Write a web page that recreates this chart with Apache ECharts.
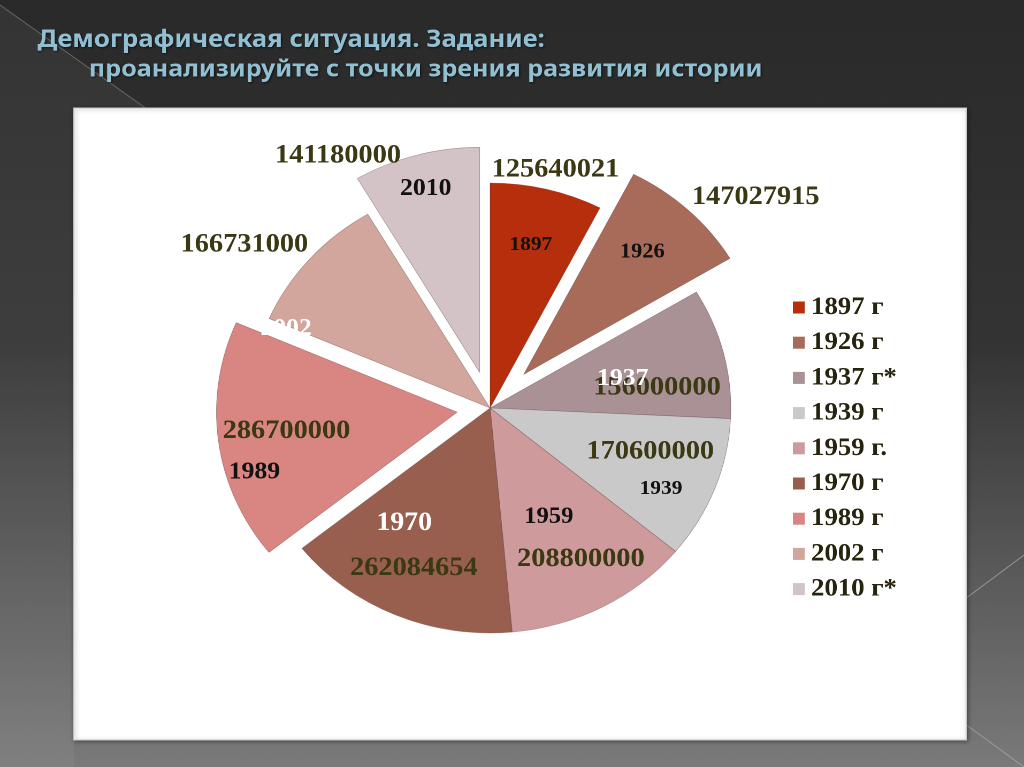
<!DOCTYPE html>
<html><head><meta charset="utf-8">
<script src="https://cdn.jsdelivr.net/npm/echarts@6/dist/echarts.min.js"></script>
<style>
html,body{margin:0;padding:0;width:1024px;height:767px;overflow:hidden;background:#2b2b2b}
/* the original slide is stretched horizontally by ~7% */
#c{width:957px;height:767px;transform:scaleX(1.07);transform-origin:0 0}
</style>
</head><body><div id="c"></div>
<script>
// ---- data ----
const categories = ['1897 г', '1926 г', '1937 г*', '1939 г', '1959 г.', '1970 г', '1989 г', '2002 г', '2010 г*'];
const years = ['1897', '1926', '1937', '1939', '1959', '1970', '1989', '2002', '2010'];
const population = [125640021, 147027915, 156000000, 170600000, 208800000, 262084654, 286700000, 166731000, 141180000];

// ---- styles ----
const explodeOffset = [0, 46, 0, 0, 0, 0, 31, 0, 37];
const colors = ['#B62E0B', '#A86B5A', '#A99196', '#C9C9C9', '#CE9A9B', '#985F4E', '#D98683', '#D3A69D', '#D3C3C6'];
const yearFont = [20, 21, 24, 20, 23, 26, 24, 24, 24];
const yearColor = ['#111', '#111', '#fff', '#111', '#111', '#fff', '#111', '#fff', '#111'];
const yearNudge = [[11, -51], [32, -38], [12, -1], [52, 39], [1, 7], [-35, 9], [-75, 45], [-104, -3], [-20, -72]];
const valueNudge = [[34, -126], [138, -93], [44, 8], [42, 2], [31, 49], [-26, 54], [-45, 4], [-143, -87], [-102, -105]];

const serif = "'Liberation Serif', 'Times New Roman', serif";
const CENTER = [458, 408];
const RADIUS = 225;

const chart = echarts.init(document.getElementById('c'), null, { devicePixelRatio: 2 });

const common = {
  type: 'pie',
  center: CENTER,
  radius: [0, RADIUS],
  startAngle: 90,
  clockwise: true,
  selectedMode: 'multiple',
  avoidLabelOverlap: false,
  silent: true,
  animation: false,
  labelLine: { show: false },
  emphasis: { disabled: true, scale: false }
};

const groups = Array.from(new Set(explodeOffset));

const valueSeries = groups.map(off => Object.assign({}, common, {
  name: 'values',
  selectedOffset: off,
  itemStyle: { color: 'rgba(0,0,0,0)', borderWidth: 0 },
  select: { itemStyle: { color: 'rgba(0,0,0,0)', borderWidth: 0 } },
  label: {
    show: true, position: 'inside', formatter: '{c}',
    fontFamily: serif, fontWeight: 'bold', fontSize: 26.5, color: '#3B3913', opacity: 1
  },
  labelLayout: function (p) { return { dx: valueNudge[p.dataIndex][0], dy: valueNudge[p.dataIndex][1] }; },
  data: categories.map((name, i) => ({
    name,
    value: population[i],
    selected: off > 0 && explodeOffset[i] === off,
    label: { show: explodeOffset[i] === off }
  }))
}));

const sliceSeries = groups.map(off => Object.assign({}, common, {
  name: 'population',
  selectedOffset: off,
  label: { show: true, position: 'inside', fontFamily: serif, fontWeight: 'bold' },
  labelLayout: function (p) { return { dx: yearNudge[p.dataIndex][0], dy: yearNudge[p.dataIndex][1] }; },
  data: categories.map((name, i) => {
    const mine = explodeOffset[i] === off;
    const st = mine ? { color: colors[i], borderWidth: 0.6, borderColor: 'rgba(90,60,60,0.45)' }
                    : { color: 'rgba(0,0,0,0)', borderWidth: 0 };
    return {
      name,
      value: population[i],
      selected: off > 0 && mine,
      itemStyle: st,
      select: { itemStyle: st },
      label: { show: mine, formatter: years[i], fontSize: yearFont[i], color: yearColor[i] }
    };
  })
}));

chart.setOption({
  animation: false,
  color: colors,
  graphic: [
    { type: 'rect', z: -10, shape: { x: 0, y: 0, width: 957, height: 767 },
      style: { fill: new echarts.graphic.LinearGradient(0, 0, 0, 1, [
        { offset: 0, color: '#2a2a2a' }, { offset: 0.45, color: '#343434' }, { offset: 1, color: '#7a7a7a' }]) } },
    { type: 'polygon', z: -9, shape: { points: [[0, 5], [136, 108], [69, 108], [69, 767], [0, 767]] },
      style: { fill: 'rgba(255,255,255,0.05)' } },
    { type: 'line', z: -8, shape: { x1: 0, y1: 5, x2: 136, y2: 108 }, style: { stroke: 'rgba(200,200,200,0.35)', lineWidth: 1 } },
    { type: 'line', z: -8, shape: { x1: 888, y1: 610, x2: 957, y2: 555 }, style: { stroke: 'rgba(220,220,220,0.45)', lineWidth: 1 } },
    { type: 'line', z: -8, shape: { x1: 879, y1: 706, x2: 957, y2: 767 }, style: { stroke: 'rgba(220,220,220,0.35)', lineWidth: 1 } },
    { type: 'rect', z: -5, shape: { x: 69, y: 108, width: 834, height: 632 },
      style: { fill: '#ffffff', stroke: '#c8c8c8', lineWidth: 1, shadowBlur: 4, shadowColor: 'rgba(0,0,0,0.4)', shadowOffsetX: 1, shadowOffsetY: 1 } }
  ],
  title: [
    { text: 'Демографическая ситуация. Задание:', left: 30, top: 23,
      textStyle: { fontFamily: "'Noto Sans', sans-serif", fontWeight: 'bold', fontSize: 24, color: '#92C0D3',
        textShadowColor: 'rgba(0,0,0,0.6)', textShadowBlur: 2, textShadowOffsetX: 1, textShadowOffsetY: 1 } },
    { text: 'проанализируйте с точки зрения развития истории', left: 78, top: 53,
      textStyle: { fontFamily: "'Noto Sans', sans-serif", fontWeight: 'bold', fontSize: 23.5, color: '#92C0D3',
        textShadowColor: 'rgba(0,0,0,0.6)', textShadowBlur: 2, textShadowOffsetX: 1, textShadowOffsetY: 1 } }
  ],
  legend: {
    orient: 'vertical',
    left: 736,
    top: 290,
    itemWidth: 11,
    itemHeight: 12,
    itemGap: 10.2,
    icon: 'rect',
    selectedMode: false,
    data: categories.map((name, i) => ({ name, itemStyle: { color: colors[i], borderWidth: 0 } })),
    textStyle: { fontFamily: serif, fontWeight: 'bold', fontSize: 25, color: '#26240E', padding: [0, 0, 0, 1] }
  },
  series: valueSeries.concat(sliceSeries)
});
</script></body></html>
